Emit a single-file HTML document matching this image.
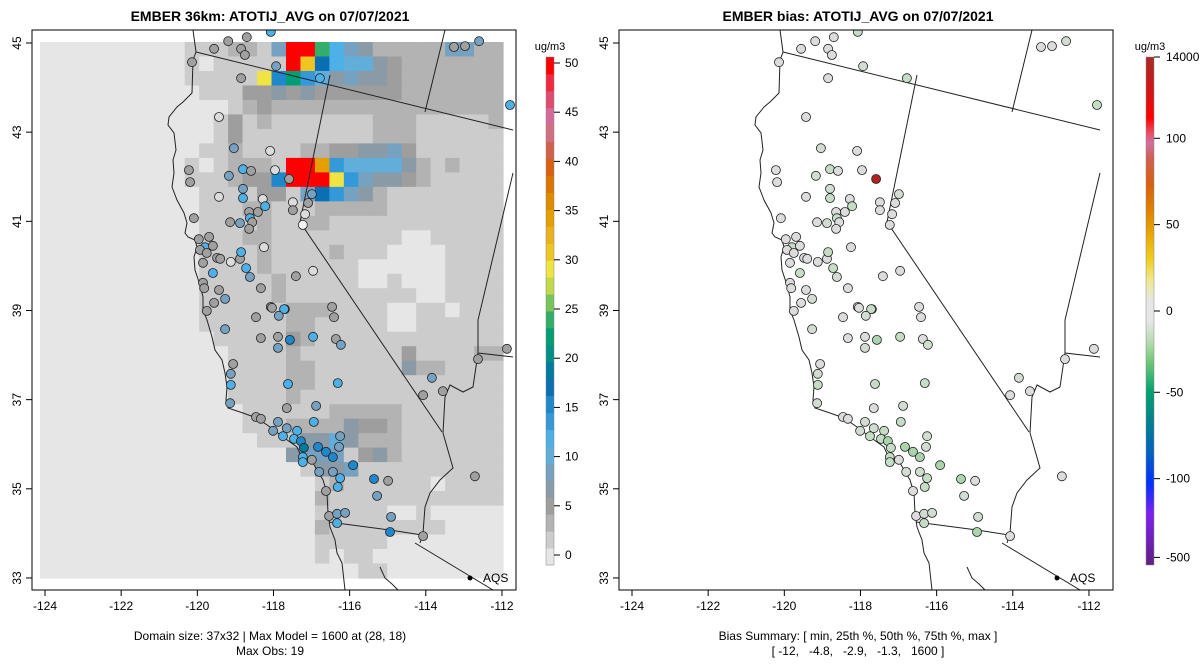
<!DOCTYPE html>
<html><head><meta charset="utf-8"><style>
body{margin:0;background:#fff;width:1200px;height:672px;overflow:hidden}
svg{display:block;font-family:"Liberation Sans",Arial,sans-serif}
</style></head><body>
<svg id="svg" width="1200" height="672" viewBox="0 0 1200 672">
<defs>
<clipPath id="clipL"><rect x="32" y="30" width="484" height="560"/></clipPath>
<clipPath id="clipR"><rect x="619" y="30" width="494" height="560"/></clipPath>
<linearGradient id="biasGrad" x1="0" y1="0" x2="0" y2="1">
<stop offset="0" stop-color="#a52a2a"/><stop offset="0.08" stop-color="#dd1111"/><stop offset="0.12" stop-color="#ff0000"/>
<stop offset="0.15" stop-color="#e8506a"/><stop offset="0.17" stop-color="#d070a0"/><stop offset="0.2" stop-color="#d06050"/>
<stop offset="0.25" stop-color="#d86010"/><stop offset="0.3" stop-color="#e08000"/><stop offset="0.34" stop-color="#e8a000"/>
<stop offset="0.4" stop-color="#f0d020"/><stop offset="0.44" stop-color="#f0e890"/><stop offset="0.48" stop-color="#e6e6e6"/>
<stop offset="0.52" stop-color="#e6e6e6"/><stop offset="0.56" stop-color="#b8dcb0"/><stop offset="0.6" stop-color="#70c878"/>
<stop offset="0.66" stop-color="#00a070"/><stop offset="0.72" stop-color="#008090"/><stop offset="0.78" stop-color="#0060c0"/>
<stop offset="0.84" stop-color="#0030ff"/><stop offset="0.9" stop-color="#8020f0"/><stop offset="1" stop-color="#602080"/>
</linearGradient>
</defs>
<text x="270" y="21" text-anchor="middle" font-size="14" font-weight="bold">EMBER 36km: ATOTIJ_AVG on 07/07/2021</text>
<text x="858" y="21" text-anchor="middle" font-size="14" font-weight="bold">EMBER bias: ATOTIJ_AVG on 07/07/2021</text>
<g id="gridL" clip-path="url(#clipL)"></g>
<g id="mapL" clip-path="url(#clipL)" fill="none" stroke="#222" stroke-width="1">
<g id="outlines">
<polyline points="193,30 196,52 193,60 192,93 183,102 177,107 169,117 168,125 174,133 176,150 173,160 174,173 172,187 177,200 184,213 187,223 185,233 188,237 195,240 197,247 194,257 195,270 200,285 203,297 203,310 207,320 212,337 215,350 222,360 225,373 227,387 226,400 228,408 243,413 257,418 270,427 283,437 297,447 302,458 313,463 323,480 327,493 328,513 330,527 335,540 337,553 342,563 345,590"/>
<polyline points="196,52 513,130"/>
<polyline points="330,75 300,222 442,432"/>
<polyline points="445,30 425,112"/>
<polyline points="513,173 478,320 478,353 513,357"/>
<polyline points="478,353 473,387 463,392 450,385 445,397 443,433 447,447 453,468 440,480 430,493 425,507 423,533 420,543"/>
<polyline points="329,522 390,530 422,535"/>
<polyline points="415,543 493,590"/>
<polyline points="380,567 385,578 392,584 398,590"/>
</g>
<circle cx="470" cy="578" r="2.5" fill="#000" stroke="none"/>
</g>
<text x="483" y="582" font-size="12">AQS</text>
<g clip-path="url(#clipR)" fill="none" stroke="#222" stroke-width="1">
<use href="#outlines" transform="translate(587,0)"/>
<circle cx="1057" cy="578" r="2.5" fill="#000" stroke="none"/>
</g>
<text x="1070" y="582" font-size="12">AQS</text>
<g id="sitesL" clip-path="url(#clipL)"></g>
<g id="sitesR" clip-path="url(#clipR)"></g>
<rect x="32" y="30" width="484" height="560" fill="none" stroke="#000"/>
<rect x="619" y="30" width="494" height="560" fill="none" stroke="#000"/>
<g id="axes" font-size="12"></g>
<text x="270" y="640" text-anchor="middle" font-size="12">Domain size: 37x32 | Max Model = 1600 at (28, 18)</text>
<text x="270" y="655" text-anchor="middle" font-size="12">Max Obs: 19</text>
<text x="858" y="640" text-anchor="middle" font-size="12">Bias Summary: [ min, 25th %, 50th %, 75th %, max ]</text>
<text x="858" y="655" text-anchor="middle" font-size="12" xml:space="preserve">[ -12,   -4.8,   -2.9,   -1.3,   1600 ]</text>
<g id="cbarL"></g>
<g id="cbarR"></g>
</svg>
<script>
const gridRows = [
"00000000001112215rrc754222225522",
"00000000001011111rea766432222222",
"000000000011111d9b86454432222222",
"00000000000111334343333332222222",
"00000000000001232222222222222222",
"00000000000013121111111222111112",
"00000000000013111111111222111111",
"00000000000112111122334453111111",
"00000000001012221rrf866664212111",
"00000000001112339rrrd85443211111",
"0000000000011113315a854211111111",
"00000000000111221112222211111111",
"00000000000111121122111111111111",
"00000000000111221111111110011111",
"00000000000111121111211100001111",
"00000000000111121111110000001111",
"00000000000111112111110010001111",
"00000000000111112111111111001111",
"00000000000111111222111100110111",
"00000000000111111221111100111111",
"00000000000011111321111111111111",
"00000000000001111211111113111122",
"00000000000001111221111114221111",
"00000000000001111221111111111111",
"00000000000001111211111111111111",
"00000000000000111111222221111111",
"00000000000000111222243321111111",
"00000000000000011144642221111111",
"00000000000000000455513421111111",
"00000000000000000014451111111111",
"00000000000000000001211111101111",
"00000000000000000002111111111111",
"00000000000000000001111100100000",
"00000000000000000002111111110000",
"00000000000000000001111100000000",
"00000000000000000001011000000000",
"00000000000000000000001100000000"
];
const cellColors = {"0":"#e6e6e6","1":"#cccccc","2":"#b3b3b3","3":"#9e9e9e","4":"#8a9aa6","5":"#77a1c0","6":"#62aedb","7":"#4db0e6","8":"#3399d9","9":"#1f88cc","a":"#0b6fb3","b":"#009e73","c":"#33ae68","d":"#f0e442","e":"#eec522","f":"#e69f00","r":"#ff0000"};
const siteLon = [-119.19,-118.70,-118.07,-119.56,-118.85,-118.75,-120.14,-117.93,-118.85,-116.78,-113.26,-112.97,-112.60,-111.79,-119.43,-119.04,-118.09,-120.22,-120.19,-119.17,-118.80,-118.59,-117.96,-117.59,-118.80,-119.43,-118.80,-118.28,-118.22,-116.99,-117.09,-117.49,-117.49,-117.17,-117.23,-118.64,-118.41,-118.62,-118.56,-118.88,-119.14,-118.64,-120.09,-119.96,-119.69,-119.80,-119.59,-119.93,-119.75,-119.48,-119.40,-119.85,-119.12,-118.88,-118.85,-118.25,-118.72,-118.62,-119.59,-119.85,-119.82,-119.43,-119.27,-119.56,-119.75,-118.33,-118.07,-117.70,-116.96,-117.41,-116.46,-116.41,-118.46,-118.04,-117.72,-117.86,-119.27,-118.33,-117.88,-117.88,-117.57,-116.96,-116.36,-116.23,-119.06,-119.12,-119.12,-117.62,-116.31,-119.14,-117.65,-116.88,-116.94,-118.46,-118.33,-117.88,-117.65,-117.38,-118.01,-117.75,-117.46,-117.28,-117.20,-116.83,-116.62,-116.44,-116.25,-116.28,-117.23,-117.23,-116.99,-115.91,-116.80,-116.44,-116.25,-116.31,-116.62,-115.36,-114.99,-115.28,-116.54,-116.33,-116.12,-116.33,-114.91,-114.94,-114.07,-113.84,-114.07,-113.55,-112.63,-111.87,-112.71];
const siteLat = [45.04,45.13,45.25,44.87,44.87,44.73,44.57,44.48,44.21,44.21,44.91,44.93,45.04,43.61,43.34,42.64,42.58,42.15,41.88,42.02,42.17,42.13,42.15,41.95,41.73,41.55,41.52,41.50,41.34,41.61,41.41,41.43,41.25,41.16,40.92,41.21,41.21,41.07,40.98,40.96,40.98,40.83,41.07,40.60,40.65,40.42,40.45,40.36,40.29,40.18,40.16,40.07,40.09,40.16,40.31,40.42,39.95,39.75,39.84,39.62,39.50,39.46,39.26,39.17,38.99,39.50,39.08,39.03,39.89,39.77,39.08,38.85,38.85,39.06,39.03,38.88,38.58,38.38,38.41,38.16,38.34,38.41,38.36,38.23,37.80,37.58,37.33,37.35,37.37,36.92,36.81,36.86,36.50,36.61,36.57,36.50,36.36,36.30,36.30,36.18,36.12,36.07,35.92,35.94,35.83,35.71,36.18,35.94,35.71,35.60,35.65,35.53,35.38,35.38,35.24,35.04,34.95,35.22,35.18,34.84,34.39,34.44,34.46,34.23,34.37,34.03,33.94,37.49,37.10,37.19,37.91,38.14,35.28];
const siteObs = [4,4,11,4,4,4,4,8,4,11,4,4,8,11,1,8,1,4,4,8,11,4,1,4,8,1,11,1,11,8,4,1,4,1,0,4,4,11,4,8,4,4,4,4,4,11,4,4,4,4,4,4,1,4,11,1,11,8,11,4,4,4,8,4,4,4,4,11,1,4,4,4,4,4,11,8,8,4,4,8,15,11,4,8,4,8,11,11,11,8,4,8,11,4,4,8,8,11,8,11,11,15,19,15,15,15,8,8,11,11,4,15,8,8,11,11,4,15,4,8,4,8,8,11,8,15,4,8,4,4,4,4,4];
const siteBias = [-2.9,-3,-9,-2.5,-3,-2.8,-2.9,-5,-3,-9,-2.5,-2.4,-5,-9,-1.3,-5,-1.2,-3,-2.9,-5,-9,-3,-1.3,1600,-5,-1.2,-9,-1.3,-9,-5,-3,-1.3,-3,-1.2,-0.5,-3,-3,-9,-3,-5,-3,-3,-3,-3,-3,-9,-3,-3,-3,-3,-3,-3,-1.2,-3,-9,-1.3,-9,-5,-9,-3,-3,-3,-5,-3,-3,-3,-3,-9,-1.3,-3,-3,-3,-3,-3,-9,-5,-5,-3,-3,-5,-12,-9,-3,-5,-3,-5,-9,-9,-9,-5,-3,-5,-9,-3,-3,-5,-5,-9,-5,-9,-9,-12,-10,-12,-12,-12,-5,-5,-9,-9,-3,-12,-5,-5,-9,-9,-3,-12,-3,-5,-3,-5,-5,-9,-5,-12,-3,-5,-3,-3,-3,-3,-3];
const xTicks = [-124,-122,-120,-118,-116,-114,-112];
const yTicks = [45,43,41,39,37,35,33];
const obsTicks = [0,5,10,15,20,25,30,35,40,45,50];
const biasTickLabels = ["14000","100","50","0","-50","-100","-500"];
const biasTickFrac = [0,0.16,0.33,0.5,0.66,0.83,0.985];
const obsBarColors = ["#e6e6e6","#cccccc","#b3b3b3","#9e9e9e","#8a9aa6","#77a1c0","#62aedb","#4db0e6","#3399d9","#1f88cc","#0b6fb3","#007a9e","#008f87","#009e73","#33ae68","#78c45a","#c2d94a","#f0e442","#eec522","#ebb01e","#e69f00","#e08a00","#dc7500","#d86010","#d2604a","#d07080","#d46a9a","#e04c70","#ef2a40","#ff0000"];

const NS="http://www.w3.org/2000/svg";
function X(lon,off){return 45+(lon+124)*38.08+(off||0);}
function Y(lat){return 43+(45-lat)*44.58;}
function mk(t,a,p){const e=document.createElementNS(NS,t);for(const k in a)e.setAttribute(k,a[k]);p.appendChild(e);return e;}
function obsColor(v){if(v<0.5)return"#f4f4f4";if(v<2.5)return"#dcdcdc";if(v<5.5)return"#a0a0a0";if(v<7)return"#8a9aa6";if(v<9.5)return"#77a1c0";if(v<12)return"#4db0e6";if(v<14)return"#3399d9";if(v<17)return"#1f88cc";if(v<20)return"#007a9e";return"#ff0000";}
function biasColor(v){if(v>100)return"#b22222";if(v>-4)return"#dcdcdc";if(v>-7)return"#d2ddd2";if(v>-11)return"#c5dcc5";return"#acd4ac";}

const gL=document.getElementById('gridL');
const cw=463/32, ch=536/37;
gridRows.forEach((row,r)=>{
  for(let c=0;c<32;c++){
    const code=row[c]||'0';
    const el=mk('rect',{x:(40+c*cw).toFixed(2),y:(42+r*ch).toFixed(2),width:(cw+0.6).toFixed(2),height:(ch+0.6).toFixed(2),fill:cellColors[code]||'#e6e6e6'},gL);
    
    
  }
});
const sL=document.getElementById('sitesL'), sR=document.getElementById('sitesR');
for(let i=0;i<siteLon.length;i++){
  const a=mk('circle',{cx:X(siteLon[i]).toFixed(1),cy:Y(siteLat[i]).toFixed(1),r:4.5,fill:obsColor(siteObs[i]),stroke:'#222','stroke-width':0.8},sL);
  
  
  const b=mk('circle',{cx:X(siteLon[i],587).toFixed(1),cy:Y(siteLat[i]).toFixed(1),r:4.5,fill:biasColor(siteBias[i]),stroke:'#222','stroke-width':0.8},sR);
  
  
}
const ax=document.getElementById('axes');
[0,587].forEach(off=>{
  const bx = off?619:32;
  xTicks.forEach(t=>{
    const x=X(t,off);
    mk('line',{x1:x,y1:590,x2:x,y2:596,stroke:'#000'},ax);
    const tx=mk('text',{x:x,y:610,'text-anchor':'middle'},ax);tx.textContent=t;
    
    
  });
  yTicks.forEach(t=>{
    const y=Y(t);
    mk('line',{x1:bx-6,y1:y,x2:bx,y2:y,stroke:'#000'},ax);
    const tx=mk('text',{x:bx-11,y:y,'text-anchor':'middle',transform:`rotate(-90 ${bx-11} ${y})`},ax);tx.textContent=t;
    
    
  });
});
const cL=document.getElementById('cbarL');
const cTop=57,cBot=565,cH=cBot-cTop;
obsBarColors.forEach((c,i)=>{
  const h=cH/obsBarColors.length;
  mk('rect',{x:546,y:(cBot-(i+1)*h).toFixed(2),width:8,height:(h+0.5).toFixed(2),fill:c},cL);
});
mk('rect',{x:546,y:cTop,width:8,height:cH,fill:'none',stroke:'#888','stroke-width':0.5},cL);
const u1=mk('text',{x:550,y:50,'text-anchor':'middle','font-size':11},cL);u1.textContent='ug/m3';
obsTicks.forEach(t=>{
  const y=555-(t/50)*492;
  mk('line',{x1:554,y1:y,x2:560,y2:y,stroke:'#000'},cL);
  const tx=mk('text',{x:565,y:y+4,'font-size':12},cL);tx.textContent=t;
  
  
});
const cR=document.getElementById('cbarR');
mk('rect',{x:1146,y:cTop,width:8,height:cH,fill:'url(#biasGrad)',stroke:'#888','stroke-width':0.5},cR);
const u2=mk('text',{x:1150,y:50,'text-anchor':'middle','font-size':11},cR);u2.textContent='ug/m3';
biasTickLabels.forEach((t,i)=>{
  const y=cTop+biasTickFrac[i]*cH;
  mk('line',{x1:1154,y1:y,x2:1160,y2:y,stroke:'#000'},cR);
  const tx=mk('text',{x:1166,y:y+4,'font-size':12},cR);tx.textContent=t;
  
  
});
</script>
</body></html>
